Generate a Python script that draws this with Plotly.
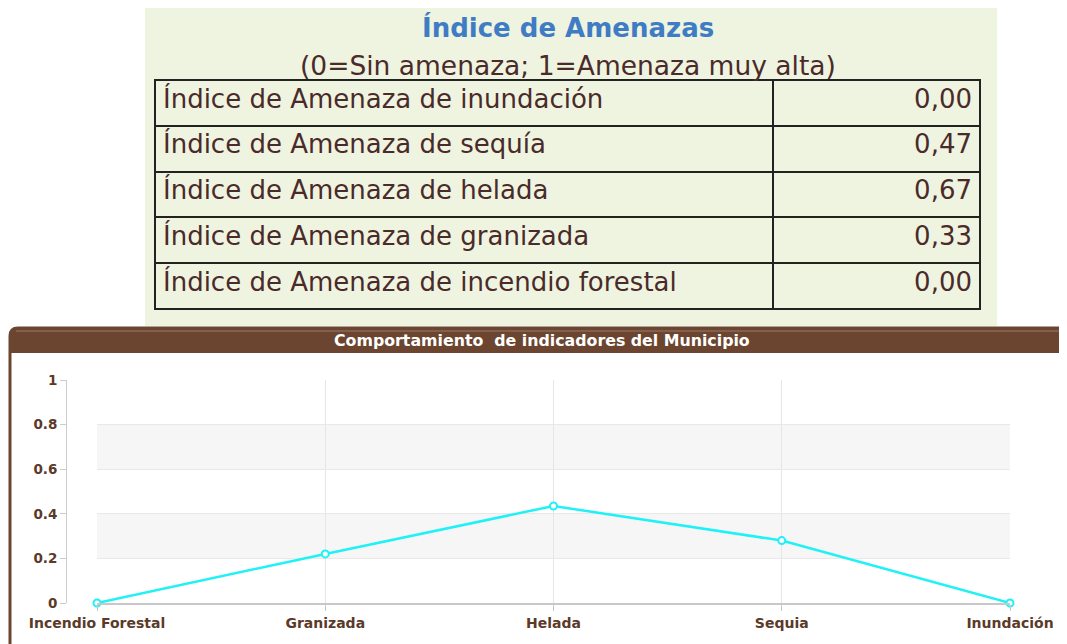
import plotly.graph_objects as go

W, H = 1067, 644
OFF = 8  # page body margin in the browser

# ---- data ----
table_labels = [
    "Índice de Amenaza de inundación",
    "Índice de Amenaza de sequía",
    "Índice de Amenaza de helada",
    "Índice de Amenaza de granizada",
    "Índice de Amenaza de incendio forestal",
]
table_values = ["0,00", "0,47", "0,67", "0,33", "0,00"]

categories = ["Incendio Forestal", "Granizada", "Helada", "Sequia", "Inundación"]
chart_values = [0, 0.22, 0.435, 0.28, 0]
y_ticks = [0, 0.2, 0.4, 0.6, 0.8, 1]

BROWN = "#6b4530"
TXT = "#4b2a2a"
TICK = "#5b3a29"
GREEN = "#eef4e0"


def px(x):
    return (x - OFF) / W


def py(y):
    return 1 - (y - OFF) / H


fig = go.Figure()

cell_style = dict(
    align=["left", "right"],
    height=45.8,
    fill=dict(color=GREEN),
    line=dict(color="#222222", width=2),
    font=dict(family="DejaVu Sans", size=26, color=TXT),
)

fig.add_trace(go.Table(
    domain=dict(x=[px(155), px(980)], y=[py(312), py(80)]),
    columnwidth=[618, 207],
    header=dict(values=[table_labels[0], table_values[0]], **cell_style),
    cells=dict(values=[table_labels[1:], table_values[1:]], **cell_style),
))

fig.add_trace(go.Scatter(
    x=categories, y=chart_values,
    mode="lines+markers",
    line=dict(color="#1ef2f7", width=2.5),
    marker=dict(symbol="circle", size=7, color="white",
                line=dict(color="#1ef2f7", width=2)),
    cliponaxis=False,
    showlegend=False,
    hoverinfo="x+y",
))

shapes = [
    dict(type="rect", xref="paper", yref="paper", x0=px(145), x1=px(997),
         y0=py(326), y1=py(8), fillcolor=GREEN, line=dict(width=0), layer="below"),
    dict(type="path", xref="paper", yref="paper",
         path=f"M {px(10)},{py(670)} L {px(10)},{py(336)} Q {px(10)},{py(328)} {px(18)},{py(328)} "
              f"L {px(1090)},{py(328)} L {px(1090)},{py(670)} Z",
         fillcolor="white", line=dict(color=BROWN, width=3), layer="below"),
    dict(type="path", xref="paper", yref="paper",
         path=f"M {px(10)},{py(353)} L {px(10)},{py(336)} Q {px(10)},{py(328)} {px(18)},{py(328)} "
              f"L {px(1090)},{py(328)} L {px(1090)},{py(353)} Z",
         fillcolor=BROWN, line=dict(width=0), layer="below"),
    dict(type="line", xref="paper", yref="paper", x0=px(16), x1=px(1090),
         y0=py(331), y1=py(331), line=dict(color="#8a6a58", width=1.5), layer="below"),
    dict(type="rect", xref="x domain", yref="y", x0=0, x1=1, y0=0.2, y1=0.4,
         fillcolor="#f6f6f6", line=dict(width=0), layer="below"),
    dict(type="rect", xref="x domain", yref="y", x0=0, x1=1, y0=0.6, y1=0.8,
         fillcolor="#f6f6f6", line=dict(width=0), layer="below"),
]

annotations = [
    dict(text="<b>Índice de Amenazas</b>", x=px(568), y=py(28), xref="paper", yref="paper",
         showarrow=False, xanchor="center", yanchor="middle",
         font=dict(family="DejaVu Sans", size=26, color="#3f7cc4")),
    dict(text="(0=Sin amenaza; 1=Amenaza muy alta)", x=px(568), y=py(65), xref="paper", yref="paper",
         showarrow=False, xanchor="center", yanchor="middle",
         font=dict(family="DejaVu Sans", size=26.5, color=TXT)),
    dict(text="<b>Comportamiento  de indicadores del Municipio</b>", x=px(542), y=py(341),
         xref="paper", yref="paper", showarrow=False, xanchor="center", yanchor="middle",
         font=dict(family="DejaVu Sans", size=15.8, color="white")),
]

fig.update_layout(
    width=W, height=H, autosize=False,
    margin=dict(l=0, r=0, t=0, b=0, pad=0, autoexpand=False),
    paper_bgcolor="white", plot_bgcolor="rgba(0,0,0,0)",
    shapes=shapes, annotations=annotations,
    showlegend=False,
    xaxis=dict(
        domain=[px(97), px(1010)], range=[0, 4], type="category",
        showline=True, linecolor="#c8c8c8", linewidth=2,
        ticks="outside", ticklen=6, tickcolor="#c8c8c8",
        showgrid=True, gridcolor="#e6e6e6", gridwidth=1,
        tickfont=dict(family="DejaVu Sans", size=14, color=TICK, weight="bold"),
        anchor="y", fixedrange=True, automargin=False,
    ),
    yaxis=dict(
        domain=[py(603), py(380)], range=[0, 1],
        tickvals=y_ticks, ticktext=[str(v) for v in y_ticks],
        anchor="free", position=px(66),
        showline=True, linecolor="#cccccc", linewidth=1,
        ticks="outside", ticklen=6, tickcolor="#cccccc",
        showgrid=True, gridcolor="#e8e8e8", zeroline=False,
        tickfont=dict(family="DejaVu Sans", size=13.5, color=TICK, weight="bold"),
        fixedrange=True, automargin=False,
    ),
)

fig.write_html("out.html")
